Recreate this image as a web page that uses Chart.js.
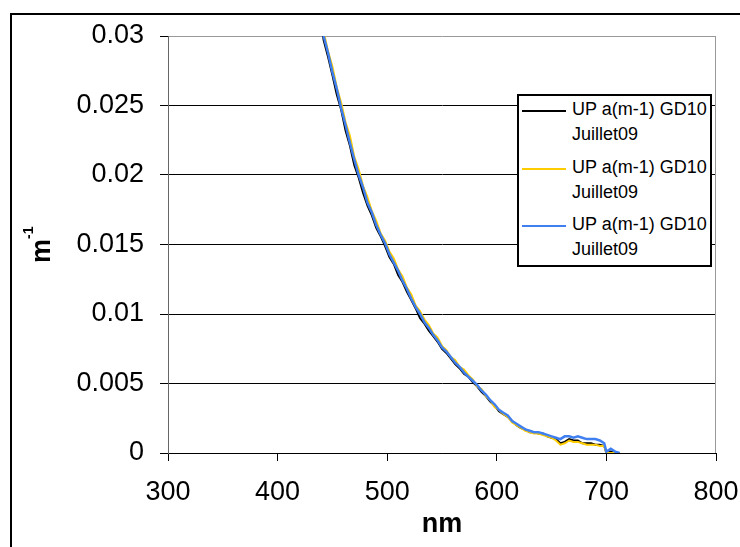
<!DOCTYPE html>
<html>
<head>
<meta charset="utf-8">
<script src="https://cdn.jsdelivr.net/npm/chart.js@4/dist/chart.umd.min.js"></script>
<style>
  body { margin: 0; background: #fff; }
  #wrap { position: relative; width: 740px; height: 547px; overflow: hidden; }
  #frame { position: absolute; left: 10px; top: 13px; width: 740px; height: 540px;
           border: 2px solid #000; box-sizing: border-box; pointer-events: none; }
  #legend { position: absolute; left: 517px; top: 94px; width: 195px; height: 173px;
            border: 2px solid #000; box-sizing: border-box; background: #fff;
            font-family: "Liberation Sans", Arial, sans-serif; font-size: 18px; color: #000; }
  .entry { position: absolute; left: 0; width: 191px; }
  .swatch { position: absolute; left: 3px; width: 44px; height: 2px; }
  .label { position: absolute; left: 53px; width: 140px; line-height: 25px; }
</style>
</head>
<body>
<div id="wrap">
  <canvas id="chart" width="740" height="547"></canvas>
  <div id="legend"></div>
  <div id="frame"></div>
</div>
<script>
// absorption spectra, 438 -> 712 nm
const wavelengths = [438,442,446,450,454,458,462,466,470,474,478,482,486,490,494,498,502,506,510,514,518,522,526,530,534,538,542,546,550,554,558,562,566,570,574,578,582,586,590,594,598,602,606,610,614,618,622,626,630,634,638,642,646,650,654,658,662,666,670,674,678,682,686,690,694,698,700,704,708,712];

const blackVals = [.0320,.0297,.0285,.0272,.0258,.0247,.0232,.0221,.0207,.0198,.0187,.0178,.0171,.0162,.0156,.0149,.0141,.0136,.0128,.0123,.0116,.0110,.0104,.0097,.0093,.0088,.0084,.0080,.0075,.0072,.0068,.0064,.0061,.0057,.0055,.0051,.0048,.0044,.0041,.0037,.0034,.0030,.0028,.0026,.0023,.0020,.0018,.0017,.0015,.0015,.0014,.0014,.0012,.0011,.0010,.0007,.0008,.0010,.0009,.0009,.0007,.0007,.0007,.0006,.0006,.0005,.0000,.0001,.0000,.0000];

const yellowVals = [.0325,.0303,.0289,.0278,.0263,.0252,.0238,.0228,.0213,.0204,.0192,.0184,.0174,.0167,.0158,.0153,.0145,.0140,.0132,.0127,.0119,.0114,.0106,.0102,.0096,.0092,.0086,.0083,.0077,.0074,.0069,.0067,.0062,.0060,.0056,.0053,.0048,.0046,.0041,.0038,.0033,.0031,.0028,.0026,.0022,.0020,.0018,.0016,.0015,.0014,.0014,.0013,.0012,.0011,.0009,.0006,.0007,.0009,.0008,.0008,.0007,.0006,.0006,.0006,.0005,.0005,.0000,.0000,.0000,.0000];

const blueVals = [.0322,.0300,.0288,.0274,.0262,.0248,.0236,.0223,.0211,.0200,.0191,.0180,.0173,.0164,.0157,.0151,.0143,.0137,.0131,.0124,.0118,.0111,.0105,.0100,.0094,.0090,.0085,.0081,.0076,.0073,.0069,.0065,.0062,.0058,.0055,.0052,.0049,.0045,.0042,.0038,.0035,.0031,.0029,.0027,.0023,.0021,.0019,.0017,.0016,.0015,.0015,.0014,.0013,.0012,.0011,.0010,.0012,.0012,.0011,.0012,.0011,.0010,.0010,.0010,.0009,.0007,.0001,.0003,.0001,.0000];

const seriesLabels = ['UP a(m-1) GD10 Juillet09', 'UP a(m-1) GD10 Juillet09', 'UP a(m-1) GD10 Juillet09'];
const seriesColors = ['#000000', '#FFCC00', '#3F7FEF'];

const xTickLabels = ['300','400','500','600','700','800'];
const yTickLabels = ['0','0.005','0.01','0.015','0.02','0.025','0.03'];

const FONT = '"Liberation Sans", Arial, sans-serif';

function pts(vals){
  return vals.map((v, i) => ({ x: wavelengths[i], y: v }));
}

// right border + y title with superscript
const extras = {
  id: 'extras',
  afterDraw(chart){
    const ctx = chart.ctx;
    const a = chart.chartArea;
    ctx.save();
    ctx.strokeStyle = '#999';
    ctx.lineWidth = 1;
    ctx.beginPath();
    ctx.moveTo(Math.round(a.right) - 0.5, a.top);
    ctx.lineTo(Math.round(a.right) - 0.5, a.bottom);
    ctx.stroke();

    ctx.fillStyle = '#000';
    ctx.translate(50, 263);
    ctx.rotate(-Math.PI / 2);
    ctx.textBaseline = 'alphabetic';
    ctx.textAlign = 'left';
    ctx.font = 'bold 27px ' + FONT;
    ctx.fillText('m', 0, 0);
    const w = ctx.measureText('m').width;
    ctx.font = 'bold 14px ' + FONT;
    ctx.fillText('-1', w, -17);
    ctx.restore();
  }
};

const datasets = [blackVals, yellowVals, blueVals].map((vals, i) => ({
  label: seriesLabels[i],
  data: pts(vals),
  borderColor: seriesColors[i],
  borderWidth: i === 2 ? 2.5 : 2,
  pointRadius: 0,
  tension: 0,
  order: 3 - i
}));

new Chart(document.getElementById('chart'), {
  type: 'line',
  data: { datasets },
  options: {
    responsive: false,
    animation: false,
    layout: { padding: { left: 0, top: 36, right: 24, bottom: 0 } },
    plugins: { legend: { display: false }, tooltip: { enabled: false } },
    scales: {
      x: {
        type: 'linear', min: 300, max: 800,
        afterFit(s){ s.height = 94; s.paddingRight = 20; s.paddingLeft = 20; },
        border: { color: '#000', width: 1 },
        grid: { drawOnChartArea: false, color: '#000', tickLength: 8 },
        ticks: {
          stepSize: 100, padding: 15, color: '#000',
          font: { family: FONT, size: 27 },
          callback: (v, i) => xTickLabels[i]
        },
        title: {
          display: true, text: 'nm', color: '#000',
          font: { family: FONT, size: 27, weight: 'bold' },
          padding: { top: 0, bottom: 6 }
        }
      },
      y: {
        min: 0, max: 0.03,
        afterFit(s){ s.width = 168; },
        border: { color: '#666', width: 1 },
        grid: {
          color: c => (c.tick && c.tick.value >= 0.03 - 1e-9) ? '#999' : '#000',
          tickColor: '#000', tickLength: 8
        },
        ticks: {
          stepSize: 0.005, padding: 16, color: '#000',
          font: { family: FONT, size: 27 },
          callback: (v, i) => yTickLabels[i]
        }
      }
    }
  },
  plugins: [extras]
});

// legend box
const legend = document.getElementById('legend');
const entryTop = [1, 58.5, 116];
seriesLabels.forEach((txt, i) => {
  const e = document.createElement('div');
  e.className = 'entry';
  e.style.top = entryTop[i] + 'px';
  const sw = document.createElement('div');
  sw.className = 'swatch';
  sw.style.top = '13px';
  sw.style.background = seriesColors[i];
  const lb = document.createElement('div');
  lb.className = 'label';
  lb.textContent = txt;
  e.appendChild(sw);
  e.appendChild(lb);
  legend.appendChild(e);
});
</script>
</body>
</html>
